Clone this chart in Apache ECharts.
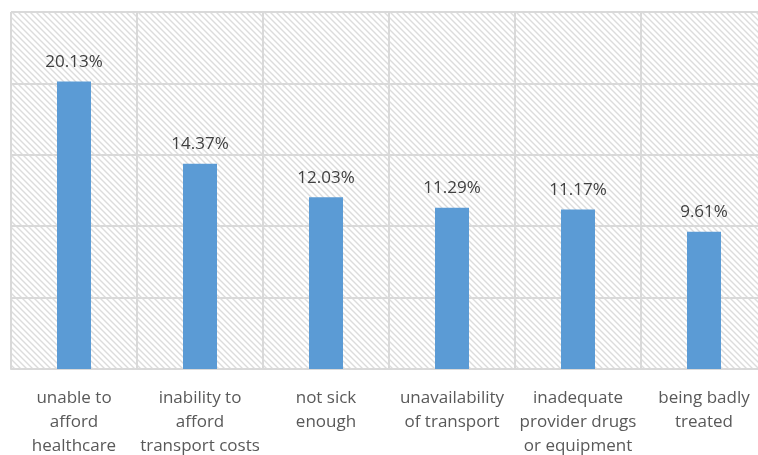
<!DOCTYPE html>
<html>
<head>
<meta charset="utf-8">
<script src="https://cdn.jsdelivr.net/npm/echarts@6/dist/echarts.min.js"></script>
<style>
  html, body { margin: 0; padding: 0; background: #ffffff; }
  #main { width: 758px; height: 455px; }
</style>
</head>
<body>
<div id="main"></div>
<script>
var categories = [
  'unable to\nafford\nhealthcare',
  'inability to\nafford\ntransport costs',
  'not sick\nenough',
  'unavailability\nof transport',
  'inadequate\nprovider drugs\nor equipment',
  'being badly\ntreated'
];
var values = [20.13, 14.37, 12.03, 11.29, 11.17, 9.61];

// diagonal hatch for the plot background
function makeHatch() {
  var c = document.createElement('canvas');
  c.width = 6;
  c.height = 6;
  var ctx = c.getContext('2d');
  ctx.fillStyle = '#ffffff';
  ctx.fillRect(0, 0, 6, 6);
  ctx.strokeStyle = '#dcdcdc';
  ctx.lineWidth = 1.4;
  ctx.beginPath();
  ctx.moveTo(-1, -1); ctx.lineTo(7, 7);
  ctx.moveTo(-4, 2); ctx.lineTo(2, 8);
  ctx.moveTo(2, -4); ctx.lineTo(8, 2);
  ctx.stroke();
  return c;
}

var chart = echarts.init(document.getElementById('main'));

var option = {
  backgroundColor: '#ffffff',
  animation: false,
  grid: {
    show: true,
    left: 11,
    top: 12,
    width: 756,
    height: 357,
    outerBoundsMode: 'none',
    containLabel: false,
    borderWidth: 0,
    backgroundColor: { image: makeHatch(), repeat: 'repeat' }
  },
  xAxis: {
    type: 'category',
    data: categories,
    axisLine: { show: true, lineStyle: { color: '#d9d9d9', width: 2 } },
    axisTick: { show: false },
    splitLine: { show: true, lineStyle: { color: '#d9d9d9', width: 2 } },
    axisLabel: {
      color: '#595959',
      fontSize: 17,
      fontFamily: 'Open Sans',
      lineHeight: 24,
      margin: 17,
      interval: 0
    }
  },
  yAxis: {
    type: 'value',
    min: 0,
    max: 25,
    interval: 5,
    axisLine: { show: false },
    axisTick: { show: false },
    axisLabel: { show: false },
    splitLine: { show: true, lineStyle: { color: '#d9d9d9', width: 2 } }
  },
  series: [{
    type: 'bar',
    data: values,
    barWidth: 34,
    itemStyle: { color: '#5b9bd5' },
    label: {
      show: true,
      position: 'top',
      distance: 11,
      color: '#404040',
      fontSize: 17,
      fontFamily: 'Open Sans',
      formatter: function (p) { return p.value.toFixed(2) + '%'; }
    }
  }]
};

chart.setOption(option);
</script>
</body>
</html>
